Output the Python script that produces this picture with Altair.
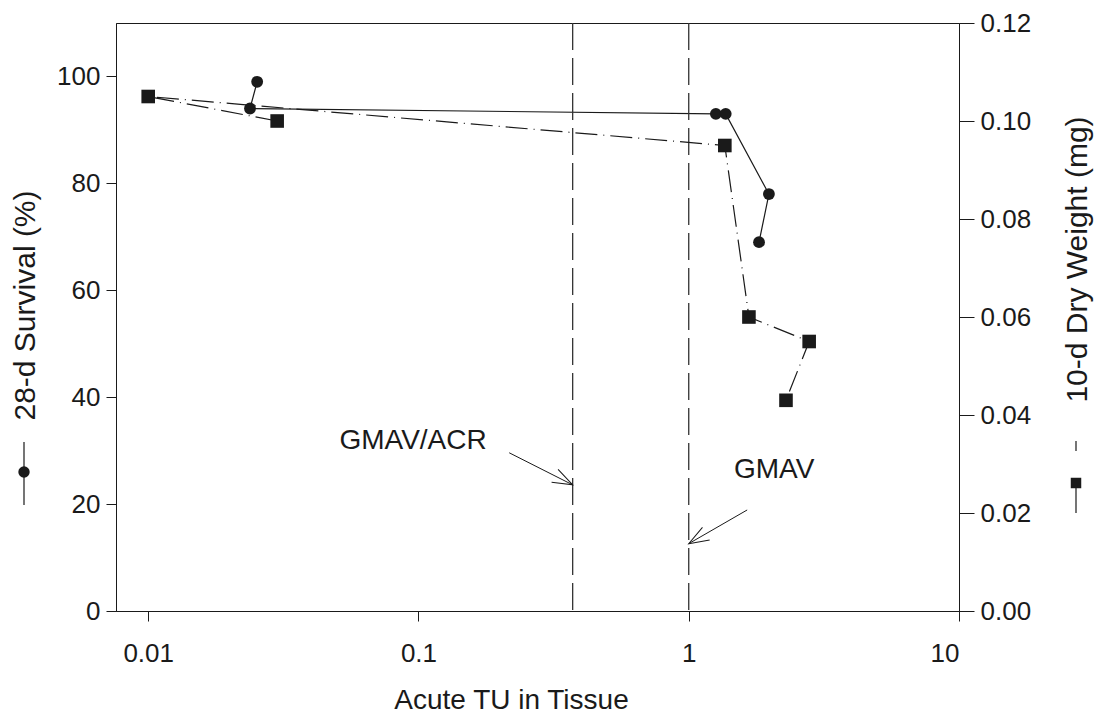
import math
import altair as alt
import pandas as pd

# ---- data ----
surv_tu = [0.0253, 0.0238, 1.26, 1.37, 1.98, 1.82]
surv_pct = [99, 94, 93, 93, 78, 69]

wt_tu = [0.030, 0.010, 1.36, 1.67, 2.79, 2.29]
wt_mg = [0.100, 0.105, 0.095, 0.060, 0.055, 0.043]

ref_tu = [0.372, 1.0]
ref_names = ["GMAV/ACR", "GMAV"]

label_x = [0.0955, 2.07]
label_y = [31.8, 26.4]
arrow_x0 = [0.2166, 1.645]
arrow_y0 = [29.6, 18.9]
arrow_x1 = [0.372, 1.0]
arrow_y1 = [23.6, 12.6]

X_DOMAIN = [0.0076, 10]
Y_LEFT = [0, 110]
Y_RIGHT = [0, 0.12]
W, H = 843, 588

FONT = "Liberation Sans"
INK = "#1a1a1a"

surv = pd.DataFrame({"tu": surv_tu, "pct": surv_pct, "order": range(len(surv_tu))})
wt = pd.DataFrame({"tu": wt_tu, "mg": wt_mg, "order": range(len(wt_tu))})
refs = pd.DataFrame({"tu": ref_tu, "name": ref_names})
one = pd.DataFrame({"k": [0]})

# arrowhead angle from the scale mapping
def px(x, y):
    lx = (math.log10(x) - math.log10(X_DOMAIN[0])) / (math.log10(X_DOMAIN[1]) - math.log10(X_DOMAIN[0])) * W
    ly = H - (y - Y_LEFT[0]) / (Y_LEFT[1] - Y_LEFT[0]) * H
    return lx, ly

angles = []
for a, b, c, d in zip(arrow_x0, arrow_y0, arrow_x1, arrow_y1):
    p0 = px(a, b)
    p1 = px(c, d)
    angles.append(math.degrees(math.atan2(p1[1] - p0[1], p1[0] - p0[0])) % 360)

ann = pd.DataFrame({
    "name": ref_names, "lx": label_x, "ly": label_y,
    "x0": arrow_x0, "y0": arrow_y0, "x1": arrow_x1, "y1": arrow_y1,
    "angle": angles,
})

xscale = alt.Scale(type="log", domain=X_DOMAIN)
xaxis = alt.Axis(
    values=[0.01, 0.1, 1, 10], format="~g", grid=False,
    title="Acute TU in Tissue", titleFontSize=28, titleFont=FONT, titleFontWeight="normal",
    titleColor=INK, titleX=395, titleY=97, titleBaseline="alphabetic",
    titleAlign="center",
    labelFontSize=26, labelFont=FONT, labelColor=INK, labelPadding=19,
    tickSize=10, tickColor=INK, domainColor=INK,
)

yl_scale = alt.Scale(domain=Y_LEFT, nice=False)
yl_axis = alt.Axis(
    values=[0, 20, 40, 60, 80, 100], grid=False,
    title="28-d Survival (%)", titleFontSize=30, titleFont=FONT, titleFontWeight="normal",
    titleColor=INK, titleAngle=-90, titleX=-91, titleY=282, titleAlign="center",
    titleBaseline="middle",
    labelFontSize=26, labelFont=FONT, labelColor=INK, labelPadding=6,
    tickSize=10, tickColor=INK, domainColor=INK,
)


def X(field):
    return alt.X(field, scale=xscale, axis=xaxis)


def YL(field):
    return alt.Y(field, scale=yl_scale, axis=yl_axis)


surv_line = alt.Chart(surv).mark_line(color=INK, strokeWidth=1.2).encode(
    x=X("tu:Q"), y=YL("pct:Q"), order="order:Q")
surv_pts = alt.Chart(surv).mark_point(shape="circle", filled=True, size=140, color=INK, opacity=1).encode(
    x=X("tu:Q"), y=YL("pct:Q"))

ref_rules = alt.Chart(refs).mark_rule(color="#333333", strokeWidth=1.3, strokeDash=[27, 8]).encode(
    x=X("tu:Q"))

ann_text = alt.Chart(ann).mark_text(font=FONT, fontSize=28, color=INK, align="center", baseline="middle").encode(
    x=X("lx:Q"), y=YL("ly:Q"), text="name:N")
ann_line = alt.Chart(ann).mark_rule(color=INK, strokeWidth=1).encode(
    x=X("x0:Q"), y=YL("y0:Q"), x2="x1:Q", y2="y1:Q")
ann_head = alt.Chart(ann).mark_point(
    shape="M-1,-0.36L0,0L-1,0.36", filled=False, size=1600, color=INK, strokeWidth=1, opacity=1
).encode(
    x=X("x1:Q"), y=YL("y1:Q"), angle=alt.Angle("angle:Q", scale=None))

# legend glyphs drawn next to the rotated axis titles
glyph_l_line = alt.Chart(one).mark_rule(color=INK, strokeWidth=1.2).encode(
    x=alt.value(-92), y=alt.value(419), y2=alt.value(482))
glyph_l_pt = alt.Chart(one).mark_point(shape="circle", filled=True, size=130, color=INK, opacity=1).encode(
    x=alt.value(-92), y=alt.value(449))
glyph_r_line = alt.Chart(one).mark_rule(color=INK, strokeWidth=1.2).encode(
    x=alt.value(960), y=alt.value(462), y2=alt.value(490))
glyph_r_dash = alt.Chart(one).mark_rule(color=INK, strokeWidth=1.2).encode(
    x=alt.value(960), y=alt.value(418), y2=alt.value(428))
glyph_r_pt = alt.Chart(one).mark_point(shape="square", filled=True, size=110, color=INK, opacity=1).encode(
    x=alt.value(960), y=alt.value(460))

left = alt.layer(surv_line, surv_pts, ref_rules, ann_line, ann_head, ann_text,
                 glyph_l_line, glyph_l_pt, glyph_r_line, glyph_r_dash, glyph_r_pt)

yr_scale = alt.Scale(domain=Y_RIGHT, nice=False)
yr_axis = alt.Axis(
    orient="right", values=[0, 0.02, 0.04, 0.06, 0.08, 0.10, 0.12], format=".2f", grid=False,
    title="10-d Dry Weight (mg)", titleFontSize=30, titleFont=FONT, titleFontWeight="normal",
    titleColor=INK, titleAngle=-90, titleX=118, titleY=236, titleAlign="center",
    titleBaseline="middle",
    labelFontSize=26, labelFont=FONT, labelColor=INK, labelPadding=6,
    tickSize=15, tickColor=INK, domainColor=INK,
)


def YR(field):
    return alt.Y(field, scale=yr_scale, axis=yr_axis)


wt_line = alt.Chart(wt).mark_line(color=INK, strokeWidth=1.2, strokeDash=[22, 6, 1, 6]).encode(
    x=X("tu:Q"), y=YR("mg:Q"), order="order:Q")
wt_pts = alt.Chart(wt).mark_point(shape="square", filled=True, size=185, color=INK, opacity=1).encode(
    x=X("tu:Q"), y=YR("mg:Q"))
right = alt.layer(wt_line, wt_pts)

chart = alt.layer(left, right).resolve_scale(y="independent").properties(
    width=W, height=H,
    autosize=alt.AutoSizeParams(type="none"),
    padding={"left": 108, "top": 15, "right": 135, "bottom": 102},
    background="white",
).configure_view(stroke=INK, strokeWidth=1)

chart.save("out.html", embed_options={"renderer": "svg", "actions": False})
